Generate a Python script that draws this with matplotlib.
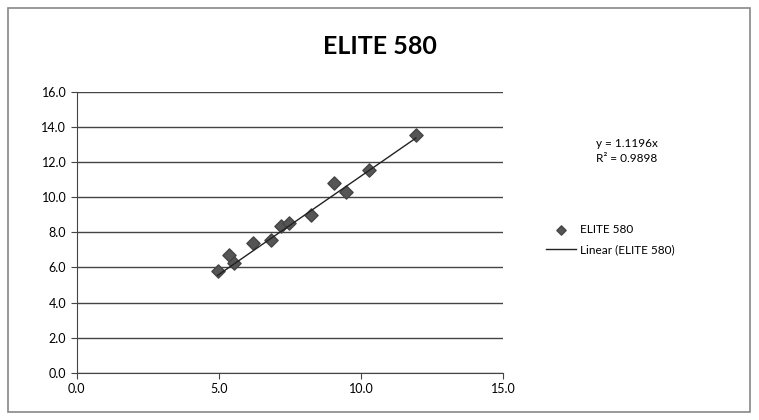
import numpy as np
import matplotlib
matplotlib.use("Agg")
import matplotlib.pyplot as plt
from matplotlib.patches import Rectangle

plt.rcParams.update({
    "font.family": ["Lato", "DejaVu Sans"],
    "font.size": 9,
})

# data
x_vals = [4.96, 5.37, 5.55, 6.19, 6.83, 7.19, 7.48, 8.24, 9.06, 9.47, 10.29, 11.93]
y_vals = [5.78, 6.72, 6.25, 7.39, 7.58, 8.33, 8.52, 9.00, 10.80, 10.30, 11.55, 13.54]
slope = 1.1196
r_squared = 0.9898
series_name = "ELITE 580"
x_ticks = [0, 5, 10, 15]
y_ticks = [0, 2, 4, 6, 8, 10, 12, 14, 16]

fig = plt.figure(figsize=(7.59, 4.20), dpi=100)
ax = fig.add_axes([0.101, 0.112, 0.562, 0.670])

# outer chart border
fig.patches.append(Rectangle((0.011, 0.019), 0.977, 0.962, transform=fig.transFigure,
                             fill=False, edgecolor="#888888", linewidth=1.2))

# gridlines
for yt in y_ticks:
    ax.axhline(yt, color="#444444", linewidth=1.0, zorder=1)

ax.scatter(x_vals, y_vals, marker="D", s=45, color="#555555", edgecolor="#444444",
           label=series_name, zorder=3)

# linear trendline through origin across data range
xs = np.array([min(x_vals), max(x_vals)])
ax.plot(xs, slope * xs, color="#222222", linewidth=1.0,
        label="Linear (%s)" % series_name, zorder=4)

ax.set_xlim(0, 15)
ax.set_ylim(0, 16)
ax.set_xticks(x_ticks)
ax.set_yticks(y_ticks)
ax.set_xticklabels(["%.1f" % t for t in x_ticks])
ax.set_yticklabels(["%.1f" % t for t in y_ticks])
ax.tick_params(direction="out", length=4, color="#444444", labelsize=9)
ax.spines["top"].set_visible(False)
ax.spines["right"].set_visible(False)
ax.spines["left"].set_color("#444444")
ax.spines["bottom"].set_color("#444444")

fig.text(0.50, 0.89, series_name, ha="center", va="center", fontsize=18, fontweight="bold")

fig.text(0.785, 0.64, "y = %.4fx\nR² = %.4f" % (slope, r_squared), ha="left", va="center",
         fontsize=8.5, linespacing=1.4)

leg = fig.legend(loc="center left", bbox_to_anchor=(0.705, 0.43), frameon=False, fontsize=8.5,
                 handlelength=2.6, handletextpad=0.3, labelspacing=0.8, scatterpoints=1,
                 markerscale=0.7)

fig.savefig("out.png", dpi=100)
